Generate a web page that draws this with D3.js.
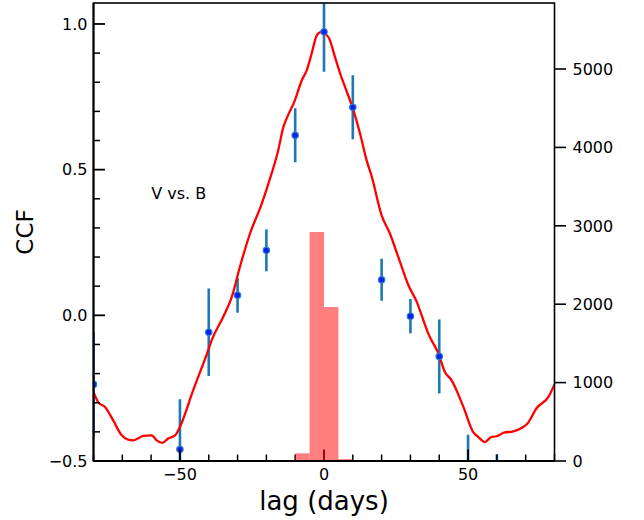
<!DOCTYPE html>
<html>
<head>
<meta charset="utf-8">
<script src="https://cdn.jsdelivr.net/npm/d3@7"></script>
<style>
  body { margin: 0; background: #fff; }
  svg { display: block; font-family: "DejaVu Sans", sans-serif; }
  .tick-label { font-size: 16px; fill: #000; }
  .axis-label { font-size: 23px; fill: #000; }
  .axis-label.x-title { font-size: 26px; }
</style>
</head>
<body>
<div id="chart"></div>
<script>
// CCF curve (lag in days, correlation)
const ccfLag = [-80, -78.4, -76, -73.2, -70.2, -68, -66.2, -62.7, -59.8, -58.1, -56.1, -54.1, -51.7, -50,
  -45.4, -40.2, -39, -35, -32, -29.2, -25.7, -21.6, -19.3, -15.9, -14.1, -13, -10.1, -7.7, -6, -4.3, -2.5,
  -1.1, 0.3, 1.8, 3.8, 5.6, 7.3, 10.2, 12.5, 14.8, 16.6, 20, 22.9, 25.8, 29.3, 32.2, 34.5, 36.2, 39.7, 42,
  44.3, 48.4, 51.8, 53.6, 55.9, 58, 60, 62.3, 65.7, 68.1, 70.4, 73.9, 77.9, 80];
const ccfValue = [-0.263, -0.298, -0.315, -0.36, -0.412, -0.427, -0.429, -0.414, -0.412, -0.429, -0.438, -0.423, -0.412, -0.383,
  -0.257, -0.12, -0.086, -0.006, 0.063, 0.166, 0.28, 0.383, 0.452, 0.566, 0.646, 0.675, 0.738, 0.807, 0.841, 0.898, 0.961,
  0.972, 0.967, 0.95, 0.887, 0.83, 0.784, 0.704, 0.624, 0.532, 0.475, 0.343, 0.28, 0.2, 0.103, 0.046, -0.017, -0.063, -0.131, -0.195,
  -0.223, -0.315, -0.401, -0.418, -0.435, -0.418, -0.415, -0.403, -0.398, -0.389, -0.374, -0.317, -0.28, -0.237];

// Discrete correlation points with error bars
const dcfLag = [-80, -50, -40, -30, -20, -10, 0, 10, 20, 30, 40, 50, 60];
const dcfValue = [-0.237, -0.46, -0.058, 0.069, 0.223, 0.618, 0.973, 0.714, 0.122, -0.003, -0.141, -0.56, -0.6];
const dcfError = [0.18, 0.172, 0.15, 0.06, 0.072, 0.093, 0.137, 0.11, 0.072, 0.059, 0.127, 0.15, 0.123];

// Histogram of peak lags (right axis counts)
const binStart = [-10, -5, 0, 5];
const binEnd = [-5, 0, 5, 10];
const binCount = [98, 2921, 1964, 25];

// Tick values and annotation
const xMajor = [-50, 0, 50];
const xMinor = [-80, -70, -60, -40, -30, -20, -10, 10, 20, 30, 40, 60, 70, 80];
const yMajor = [-0.5, 0, 0.5, 1.0];
const yMinor = [-0.4, -0.3, -0.2, -0.1, 0.1, 0.2, 0.3, 0.4, 0.6, 0.7, 0.8, 0.9];
const countTicks = [0, 1000, 2000, 3000, 4000, 5000];
const label = { text: "V vs. B", lag: -60, value: 0.4 };

const width = 644, height = 520;
const margin = { top: 3, right: 89.5, bottom: 59, left: 93.5 };
const plotLeft = margin.left, plotRight = width - margin.right;
const plotTop = margin.top, plotBottom = height - margin.bottom;

const x = d3.scaleLinear().domain([-80, 80]).range([plotLeft, plotRight]);
const y = d3.scaleLinear().domain([-0.5, 1.072]).range([plotBottom, plotTop]);
const yCount = d3.scaleLinear().domain([0, 5842]).range([plotBottom, plotTop]);

const svg = d3.select("#chart").append("svg").attr("width", width).attr("height", height);

svg.append("clipPath").attr("id", "plot-clip")
  .append("rect").attr("x", plotLeft).attr("y", plotTop)
  .attr("width", plotRight - plotLeft).attr("height", plotBottom - plotTop);

const plot = svg.append("g").attr("clip-path", "url(#plot-clip)");

// Error bars below the curve, markers on top
const dcf = dcfLag.map((lag, i) => ({ lag, value: dcfValue[i], err: dcfError[i] }));
plot.append("g").selectAll("line").data(dcf).join("line")
  .attr("x1", d => x(d.lag)).attr("x2", d => x(d.lag))
  .attr("y1", d => y(d.value - d.err)).attr("y2", d => y(d.value + d.err))
  .attr("stroke", "#1f77b4").attr("stroke-width", 2.6);

const ccf = ccfLag.map((lag, i) => ({ lag, value: ccfValue[i] }));
plot.append("path").datum(ccf)
  .attr("fill", "none").attr("stroke", "#ff0000").attr("stroke-width", 2.3)
  .attr("stroke-linejoin", "round")
  .attr("d", d3.line().curve(d3.curveMonotoneX).x(d => x(d.lag)).y(d => y(d.value)));

plot.append("g").selectAll("circle").data(dcf).join("circle")
  .attr("cx", d => x(d.lag)).attr("cy", d => y(d.value)).attr("r", 3.2)
  .attr("fill", "#0a1ff0").attr("stroke", "#2f80c8").attr("stroke-width", 1.2);

svg.append("text").attr("class", "tick-label")
  .attr("x", x(label.lag)).attr("y", y(label.value)).text(label.text);

// Left and bottom axes, ticks pointing inward
const fmtY = d3.format(".1f");
const axes = svg.append("g").attr("stroke", "#000");
axes.selectAll(".ym").data(yMajor).join("line")
  .attr("x1", plotLeft).attr("x2", plotLeft + 11.5).attr("y1", d => y(d)).attr("y2", d => y(d)).attr("stroke-width", 1.8);
axes.selectAll(".yn").data(yMinor).join("line")
  .attr("x1", plotLeft).attr("x2", plotLeft + 6.5).attr("y1", d => y(d)).attr("y2", d => y(d)).attr("stroke-width", 1.5);
axes.selectAll(".xm").data(xMajor).join("line")
  .attr("y1", plotBottom).attr("y2", plotBottom - 11.5).attr("x1", d => x(d)).attr("x2", d => x(d)).attr("stroke-width", 1.8);
axes.selectAll(".xn").data(xMinor).join("line")
  .attr("y1", plotBottom).attr("y2", plotBottom - 6.5).attr("x1", d => x(d)).attr("x2", d => x(d)).attr("stroke-width", 1.5);

svg.append("g").selectAll("text").data(yMajor).join("text").attr("class", "tick-label")
  .attr("x", plotLeft - 6).attr("y", d => y(d)).attr("dy", "0.36em").attr("text-anchor", "end")
  .text(d => fmtY(d));
svg.append("g").selectAll("text").data(xMajor).join("text").attr("class", "tick-label")
  .attr("x", d => x(d)).attr("y", plotBottom + 19).attr("text-anchor", "middle")
  .text(d => d3.format("d")(d));

// Histogram drawn on the twin axis, above the main plot
const bins = binStart.map((s, i) => ({ s, e: binEnd[i], n: binCount[i] }));
svg.append("g").selectAll("rect").data(bins).join("rect")
  .attr("x", d => x(d.s)).attr("width", d => x(d.e) - x(d.s))
  .attr("y", d => yCount(d.n)).attr("height", d => plotBottom - yCount(d.n))
  .attr("fill", "#ff0000").attr("fill-opacity", 0.5);

// Right axis, ticks pointing outward
svg.append("g").selectAll("line").data(countTicks).join("line")
  .attr("x1", plotRight).attr("x2", plotRight + 11.5).attr("y1", d => yCount(d)).attr("y2", d => yCount(d))
  .attr("stroke", "#000").attr("stroke-width", 1.6);
svg.append("g").selectAll("text").data(countTicks).join("text").attr("class", "tick-label")
  .attr("x", plotRight + 18).attr("y", d => yCount(d)).attr("dy", "0.36em")
  .text(d => d);

// Frame
svg.append("rect").attr("x", plotLeft).attr("y", plotTop)
  .attr("width", plotRight - plotLeft).attr("height", plotBottom - plotTop)
  .attr("fill", "none").attr("stroke", "#000").attr("stroke-width", 1.6);
svg.append("line").attr("x1", plotLeft).attr("x2", plotLeft).attr("y1", plotTop).attr("y2", plotBottom)
  .attr("stroke", "#000").attr("stroke-width", 2);
svg.append("line").attr("x1", plotLeft).attr("x2", plotRight).attr("y1", plotBottom).attr("y2", plotBottom)
  .attr("stroke", "#000").attr("stroke-width", 2);

// Axis titles
svg.append("text").attr("class", "axis-label").attr("text-anchor", "middle")
  .attr("transform", `translate(33, ${(plotTop + plotBottom) / 2}) rotate(-90)`).text("CCF");
svg.append("text").attr("class", "axis-label x-title").attr("text-anchor", "middle")
  .attr("x", (plotLeft + plotRight) / 2).attr("y", 510).text("lag (days)");
</script>
</body>
</html>
